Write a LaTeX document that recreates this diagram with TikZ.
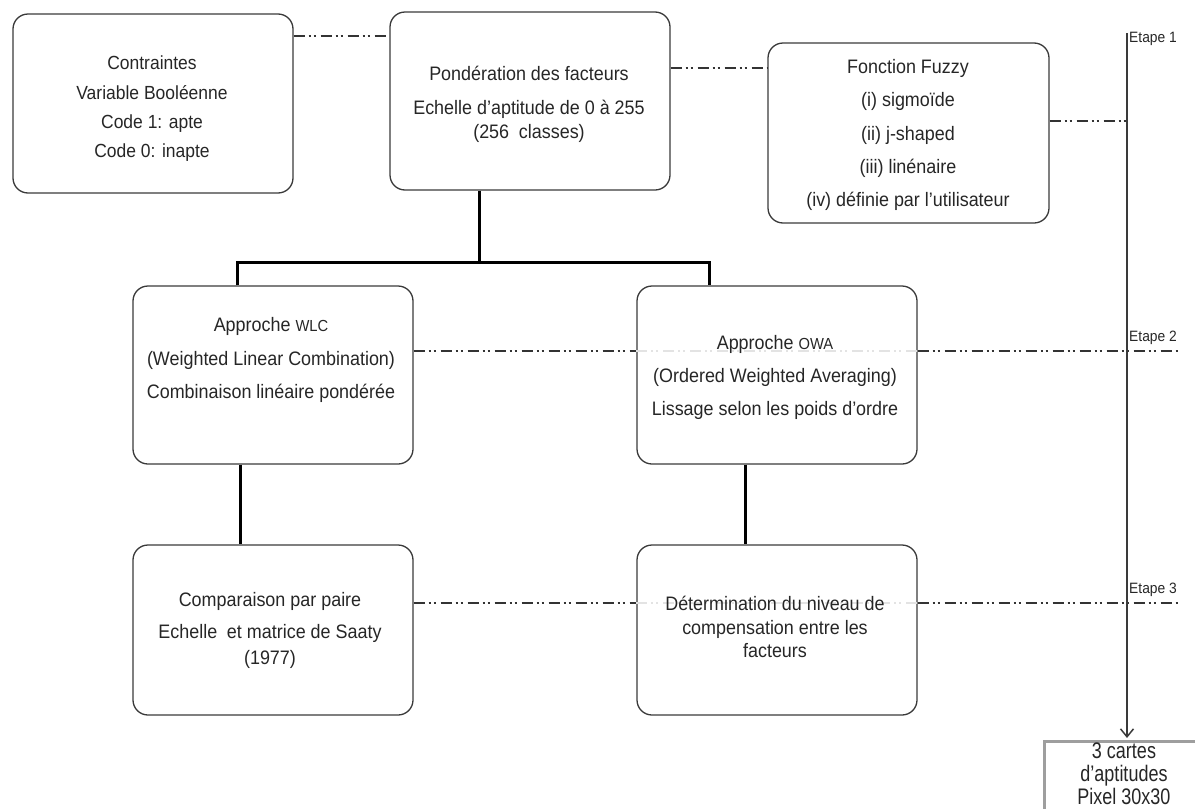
\documentclass[tikz,border=0pt]{standalone}
\usepackage{fontspec}
\setmainfont{Liberation Sans}
\newfontfamily\fa[FakeStretch=0.92]{Liberation Sans}
\newfontfamily\fc[FakeStretch=0.8]{Liberation Sans}
\usetikzlibrary{arrows.meta}
\definecolor{boxc}{HTML}{3A3A3A}
\definecolor{ddc}{HTML}{333333}
\definecolor{txtc}{HTML}{262626}
\begin{document}
\begin{tikzpicture}[x=1pt,y=-1pt,
  box/.style={draw=boxc, line width=1.3pt, rounded corners=15pt, minimum width=280pt, inner sep=0pt},
  txt/.style={align=center, inner sep=0pt, text=txtc},
  f18/.style={font=\fa\fontsize{19.5}{#1}\selectfont},
  thickc/.style={line width=3pt, draw=black},
  dd/.style={draw=ddc, line width=1.2pt, dash pattern=on 11pt off 4pt on 2pt off 3pt on 2pt off 5pt},
  ddf/.style={dd, draw=black!11},
  lbl/.style={font=\fa\fontsize{15}{17}\selectfont, inner sep=0pt, anchor=west, text=txtc},
  vline/.style={draw=boxc, line width=1.5pt}
]
\useasboundingbox (0,0) rectangle (1195,809);
\clip (0,0) rectangle (1195,809);

% boxes
\node[box, minimum height=179pt] (contr) at (153,103.5) {};
\node[box, minimum height=178pt] (pond) at (530,101) {};
\node[box, minimum width=281pt, minimum height=180pt] (fuzzy) at (908.5,133) {};
\node[box, minimum height=178pt] (wlc) at (273,375) {};
\node[box, minimum height=178pt] (owa) at (777,375) {};
\node[box, minimum height=170pt] (comp) at (273,630) {};
\node[box, minimum height=170pt] (det) at (777,630) {};
\node[draw=black!38, line width=2.5pt, minimum width=162pt, minimum height=100pt, anchor=north west, inner sep=0pt] (cartes) at (1043,740) {};

% coordinates
\coordinate (etop) at (1127,33);
\coordinate (e2end) at (1180,351);
\coordinate (e3end) at (1180,603);
\coordinate (jn) at (479,262);
\coordinate (jl) at (237,262);
\coordinate (jr) at (709,262);

% thick tree connectors
\draw[thickc] (pond.south -| jn) -- (jn);
\draw[thickc] (wlc.north -| jl) -- (jl) -- (jr) -- (owa.north -| jr);
\draw[thickc] (wlc.south -| 240,0) -- (comp.north -| 240,0);
\draw[thickc] (owa.south -| 745,0) -- (det.north -| 745,0);

% dash-dot-dot links
\draw[dd] (contr.east |- 0,36) -- (pond.west |- 0,36);
\draw[dd] (pond.east |- 0,68) -- (fuzzy.west |- 0,68);
\draw[dd] (fuzzy.east |- 0,121) -- (etop |- 0,121);
\draw[dd] (wlc.east |- e2end) -- (owa.west |- e2end);
\draw[ddf] (owa.west |- e2end) -- (owa.east |- e2end);
\draw[dd] (owa.east |- e2end) -- (e2end);
\draw[dd] (comp.east |- e3end) -- (det.west |- e3end);
\draw[ddf] (det.west |- e3end) -- (det.east |- e3end);
\draw[dd] (det.east |- e3end) -- (e3end);

% vertical step line with arrow
\draw[vline, -{Straight Barb[length=8pt,width=13pt]}, shorten >=2pt] (etop) -- (etop |- cartes.north);

% texts
\node[txt, font=\fa\fontsize{19}{29.3}\selectfont] (contrt) at (152,109)
  {Contraintes\\Variable Booléenne\\Code 1: apte\\Code 0: inapte};
\node[txt, f18=24] (pondt) at (529,104)
  {Pondération des facteurs\\[10pt]Echelle d’aptitude de 0 à 255\\(256\enspace classes)};
\node[txt, f18=33.2] (fuzzyt) at (908,135)
  {Fonction Fuzzy\\(i) sigmoïde\\(ii) j-shaped\\(iii) linénaire\\(iv) définie par l’utilisateur};
\node[txt, f18=33.5] (wlct) at (271,360)
  {Approche {\fontsize{16}{16}\selectfont WLC}\\(Weighted Linear Combination)\\Combinaison linéaire pondérée};
\node[txt, f18=33] (owat) at (775,377)
  {Approche {\fontsize{16}{16}\selectfont OWA}\\(Ordered Weighted Averaging)\\Lissage selon les poids d’ordre};
\node[txt, f18=26] (compt) at (270,630)
  {Comparaison par paire\\[6pt]Echelle\enspace et matrice de Saaty\\(1977)};
\node[txt, f18=23.5] (dett) at (775,627)
  {Détermination du niveau de\\compensation entre les\\facteurs};
\node[txt, font=\fc\fontsize{22.5}{23}\selectfont] (cartest) at (1124,774)
  {3 cartes\\d’aptitudes\\Pixel 30x30};

% step labels
\node[lbl] (e1) at (1129,39) {Etape 1};
\node[lbl] (e2) at (1129,338) {Etape 2};
\node[lbl] (e3) at (1129,590) {Etape 3};
\end{tikzpicture}
\end{document}
